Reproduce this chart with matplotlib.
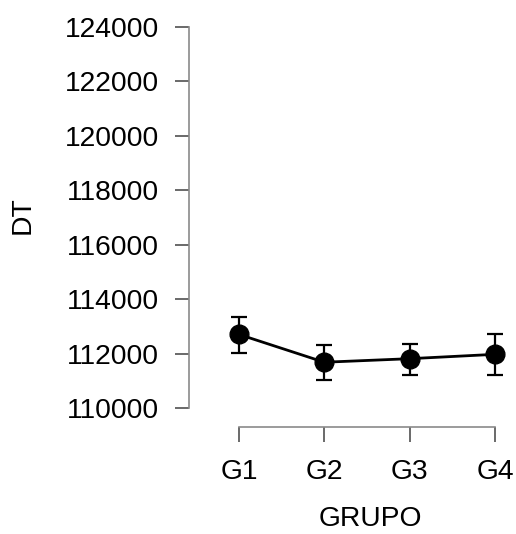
import matplotlib
matplotlib.use("Agg")
import matplotlib.pyplot as plt

groups = ["G1", "G2", "G3", "G4"]
means = [112700, 111680, 111810, 111970]
upper = [113350, 112300, 112360, 112715]
lower = [112030, 111030, 111220, 111200]
yticks = [110000, 112000, 114000, 116000, 118000, 120000, 122000, 124000]

plt.rcParams['font.family'] = ['Liberation Sans', 'DejaVu Sans']

W, H = 516, 534
fig = plt.figure(figsize=(W / 100, H / 100), dpi=100)
left, right, bottom, top = 189, 510, 427, 20
ax = fig.add_axes([left / W, 1 - bottom / H, (right - left) / W, (bottom - top) / H])

x = list(range(len(groups)))
err_lo = [m - l for m, l in zip(means, lower)]
err_hi = [u - m for m, u in zip(means, upper)]
ax.errorbar(x, means, yerr=[err_lo, err_hi], fmt='none', ecolor='black',
            elinewidth=1.6, capsize=6, capthick=1.6, zorder=2)
ax.plot(x, means, color='black', lw=2.0, marker='o', markersize=13.5, zorder=3)

ax.set_xlim(-0.586, 3.176)
ax.set_ylim(109303, 124239)
ax.set_xticks(x)
ax.set_xticklabels(groups)
ax.set_yticks(yticks)
ax.set_yticklabels([str(v) for v in yticks])

for s in ['top', 'right']:
    ax.spines[s].set_visible(False)
ax.spines['left'].set_bounds(yticks[0], yticks[-1])
ax.spines['bottom'].set_bounds(0, len(groups) - 1)
for s in ['left', 'bottom']:
    ax.spines[s].set_color('#8a8a8a')
    ax.spines[s].set_linewidth(1.2)
ax.tick_params(axis='y', direction='out', length=10.3, width=1.2, color='#505050',
               labelsize=20.3, labelcolor='black', pad=11.5)
ax.tick_params(axis='x', direction='out', length=11, width=1.2, color='#505050',
               labelsize=20.3, labelcolor='black', pad=12)

ax.set_xlabel('GRUPO', fontsize=20.3, va='top')
ax.xaxis.set_label_coords(0.564, -0.195)
ax.set_ylabel('DT', fontsize=20.3)
ax.yaxis.set_label_coords(-0.478, 0.52)

fig.savefig('out.png', dpi=100)
